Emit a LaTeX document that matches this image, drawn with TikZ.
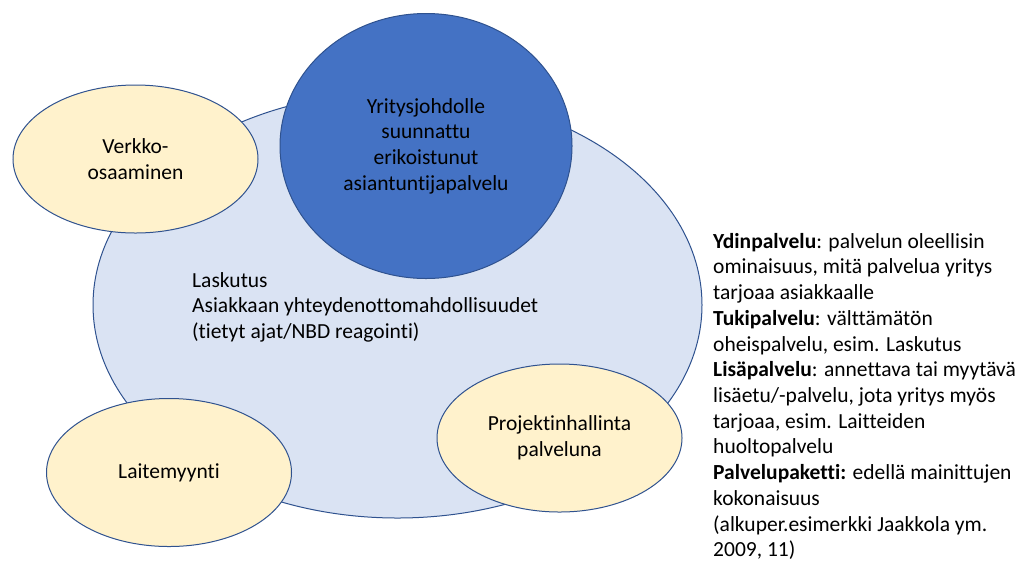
\documentclass[tikz,border=0pt]{standalone}
\usepackage{fontspec}
\setmainfont{Carlito}[Ligatures=NoCommon]
\usetikzlibrary{shapes.geometric}
\definecolor{edge}{HTML}{2F528F}
\definecolor{paleblue}{HTML}{DAE3F3}
\definecolor{deepblue}{HTML}{4472C4}
\definecolor{cream}{HTML}{FFF2CC}
\tikzset{
  txt/.style={font=\fontsize{21.5}{25.7}\selectfont, text=black},
  oval/.style={ellipse, draw=edge, line width=1pt, inner sep=0pt, txt, align=center},
  service/.style={oval, fill=cream, minimum width=245pt, minimum height=148pt},
}
\begin{document}
\begin{tikzpicture}[x=1pt, y=-1pt]
\useasboundingbox (0,0) rectangle (1032,566);
% service package (outer area)
\node[oval, fill=paleblue, minimum width=609pt, minimum height=426pt] (pkg) at (397.5,305) {};
% core service
\node[oval, fill=deepblue, minimum width=292pt, minimum height=265pt] (core) at (426,146)
  {Yritysjohdolle\\suunnattu\\erikoistunut\\asiantuntijapalvelu};
% additional services
\node[service] (verkko) at (135.5,159) {Verkko-\\osaaminen};
\node[service] (laite) at (169,472.5) {Laitemyynti};
\node[service] (projekti) at (559.5,438) {Projektinhallinta\\palveluna};
% support services inside the package
\node[txt, align=left, anchor=north west, inner sep=0pt] (tuki) at (192,272)
  {Laskutus\\Asiakkaan yhteydenottomahdollisuudet\\(tietyt ajat/NBD reagointi)};
% legend
\node[txt, align=left, anchor=north west, inner sep=0pt] (selite) at (713,233)
  {\textbf{Ydinpalvelu}: palvelun oleellisin\\
   ominaisuus, mitä palvelua yritys\\
   tarjoaa asiakkaalle\\
   \textbf{Tukipalvelu}: välttämätön\\
   oheispalvelu, esim. Laskutus\\
   \textbf{Lisäpalvelu}: annettava tai myytävä\\
   lisäetu/-palvelu, jota yritys myös\\
   tarjoaa, esim. Laitteiden\\
   huoltopalvelu\\
   \textbf{Palvelupaketti:} edellä mainittujen\\
   kokonaisuus\\
   (alkuper.esimerkki Jaakkola ym.\\
   2009, 11)};
\end{tikzpicture}
\end{document}
